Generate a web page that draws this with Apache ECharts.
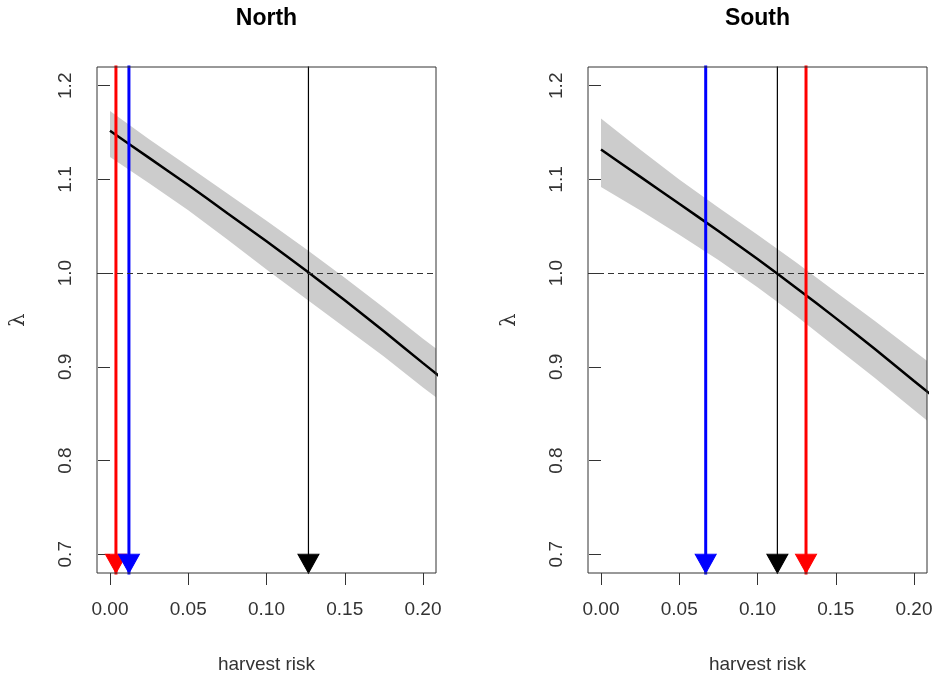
<!DOCTYPE html>
<html>
<head>
<meta charset="utf-8">
<script src="https://cdn.jsdelivr.net/npm/echarts@6/dist/echarts.min.js"></script>
<style>
  html, body { margin: 0; padding: 0; background: #fff; }
  #chart { width: 936px; height: 679px; }
</style>
</head>
<body>
<div id="chart"></div>
<script>
// data
var harvest = [0, 0.025, 0.05, 0.075, 0.1, 0.125, 0.15, 0.175, 0.2, 0.21];

var northFit   = [1.152, 1.123, 1.094, 1.064, 1.034, 1.003, 0.971, 0.938, 0.904, 0.8905];
var northUpper = [1.173, 1.143, 1.114, 1.085, 1.056, 1.026, 0.995, 0.963, 0.930, 0.9175];
var northLower = [1.124, 1.096, 1.067, 1.036, 1.004, 0.973, 0.942, 0.911, 0.878, 0.8655];

var southFit   = [1.132, 1.103, 1.074, 1.045, 1.015, 0.984, 0.952, 0.919, 0.885, 0.8715];
var southUpper = [1.165, 1.132, 1.100, 1.070, 1.041, 1.011, 0.980, 0.949, 0.917, 0.9045];
var southLower = [1.092, 1.067, 1.041, 1.014, 0.985, 0.954, 0.921, 0.888, 0.854, 0.8405];

// arrow positions: red, blue, black
var northArrows = [0.0038, 0.0121, 0.1268];
var southArrows = [0.131, 0.0669, 0.1127];
var arrowLevel = 0.69;
var refLevel = 1.0;

var xTicks = [0, 0.05, 0.10, 0.15, 0.20];
var yTicks = [0.7, 0.8, 0.9, 1.0, 1.1, 1.2];
var panelTitles = ['North', 'South'];

var arrowColors = ['#ff0000', '#0000ff', '#000000'];
var arrowWidths = [3, 3, 1.2];

var FONT = 'Liberation Sans, Arial, sans-serif';
var chart = echarts.init(document.getElementById('chart'));

function pairs(xs, ys) {
    return xs.map(function(x, i){ return [x, ys[i]]; });
}

var grids = [
    {left: 97, top: 67, width: 339, height: 511},
    {left: 588, top: 67, width: 339, height: 511}
];

var xAxes = [], yAxes = [], series = [];

[[northFit, northUpper, northLower, northArrows],
 [southFit, southUpper, southLower, southArrows]].forEach(function(p, k){
    var fit = p[0], upper = p[1], lower = p[2], arrows = p[3];

    xAxes.push({
        type: 'value', gridIndex: k, min: -0.0083, max: 0.2083,
        name: 'harvest risk', nameLocation: 'middle', nameGap: 82,
        nameTextStyle: {fontFamily: FONT, fontSize: 19, color: '#333'},
        axisLine: {show: false},
        splitLine: {show: false},
        axisTick: {show: true, length: 12, customValues: xTicks, lineStyle: {color: '#333'}},
        axisLabel: {customValues: xTicks, margin: 27, fontFamily: FONT, fontSize: 19, color: '#333',
            formatter: function(v){ return v.toFixed(2); }}
    });
    yAxes.push({
        type: 'value', gridIndex: k, min: 0.68, max: 1.22,
        name: 'λ', nameLocation: 'middle', nameGap: 68, nameRotate: 90,
        nameTextStyle: {fontFamily: 'DejaVu Serif, serif', fontSize: 21, color: '#333'},
        axisLine: {show: false},
        splitLine: {show: false},
        axisTick: {show: true, length: 12, customValues: yTicks, lineStyle: {color: '#333'}},
        axisLabel: {customValues: yTicks, rotate: 90, margin: 22, fontFamily: FONT, fontSize: 19, color: '#333',
            formatter: function(v){ return v.toFixed(1); }}
    });

    // confidence band polygon
    series.push({
        type: 'custom', xAxisIndex: k, yAxisIndex: k, silent: true, z: 1,
        data: harvest.map(function(x, i){ return [x, lower[i], upper[i]]; }),
        renderItem: function(params, api){
            if (params.dataIndex !== 0) return;
            var pts = [], i;
            for (i = 0; i < harvest.length; i++) pts.push(api.coord([harvest[i], upper[i]]));
            for (i = harvest.length - 1; i >= 0; i--) pts.push(api.coord([harvest[i], lower[i]]));
            var cs = params.coordSys;
            return {
                type: 'polygon',
                shape: {points: pts, smooth: 0},
                style: {fill: '#cccccc'},
                clipPath: {type: 'rect', shape: {x: cs.x, y: cs.y, width: cs.width, height: cs.height}}
            };
        }
    });
    // fitted line + reference line
    series.push({
        type: 'line', xAxisIndex: k, yAxisIndex: k,
        data: pairs(harvest, fit), symbol: 'none', smooth: 0.2,
        lineStyle: {color: '#000', width: 2.5}, z: 3,
        markLine: {
            silent: true, symbol: 'none', animation: false,
            label: {show: false},
            lineStyle: {color: '#333', width: 1, type: [6, 4]},
            data: [{yAxis: refLevel}]
        }
    });
    // vertical lines
    arrows.forEach(function(x, i){
        series.push({
            type: 'line', xAxisIndex: k, yAxisIndex: k, z: 4, clip: true,
            data: [[x, 1.3], [x, 0.6]], symbol: 'none',
            lineStyle: {color: arrowColors[i], width: arrowWidths[i]}
        });
    });
    // arrow heads
    series.push({
        type: 'scatter', xAxisIndex: k, yAxisIndex: k, z: 5,
        symbol: 'triangle', symbolRotate: 180, symbolSize: [21, 19],
        data: arrows.map(function(x, i){
            return {value: [x, arrowLevel],
                    itemStyle: {color: arrowColors[i], opacity: 1,
                                borderColor: i === 2 ? '#000' : arrowColors[i], borderWidth: 1}};
        })
    });
});

var option = {
    animation: false,
    backgroundColor: '#fff',
    grid: grids.map(function(g){
        return Object.assign({show: true, borderColor: '#333', borderWidth: 1, backgroundColor: 'transparent', z: 10}, g);
    }),
    graphic: panelTitles.map(function(t, k){
        return {
            type: 'text', x: grids[k].left + grids[k].width / 2, y: 19,
            style: {text: t, font: 'bold 23px ' + FONT, fill: '#000', textAlign: 'center', textVerticalAlign: 'middle'}
        };
    }),
    xAxis: xAxes,
    yAxis: yAxes,
    series: series
};

chart.setOption(option);
</script>
</body>
</html>
